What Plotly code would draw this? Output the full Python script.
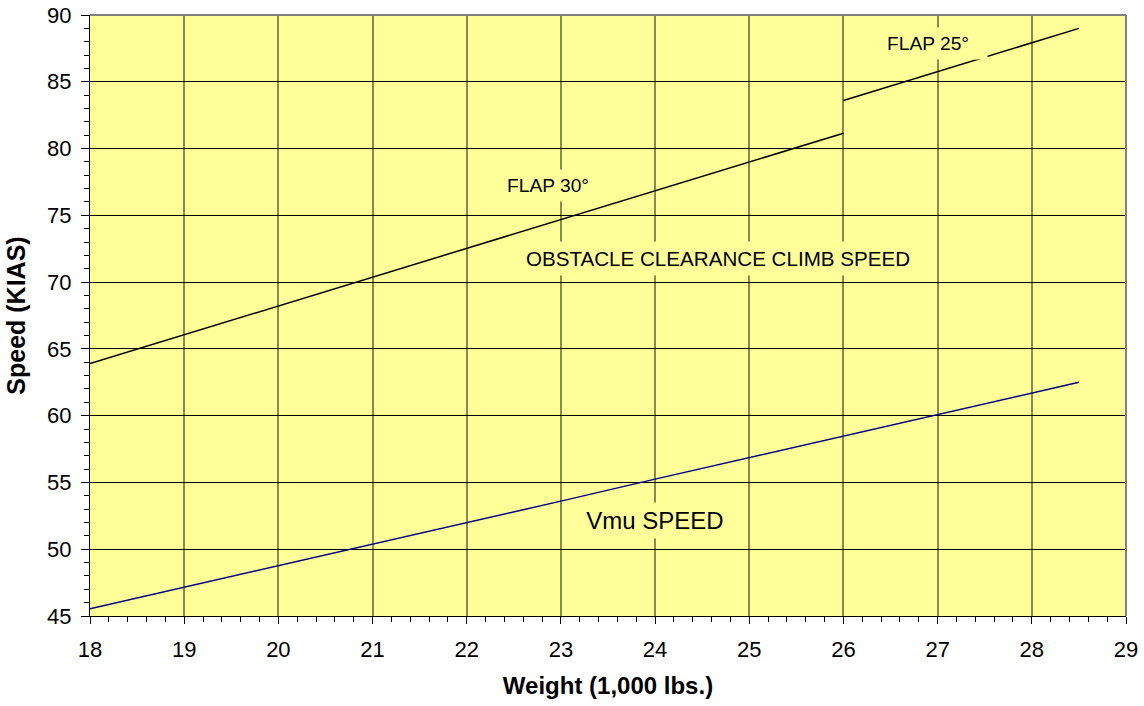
import plotly.graph_objects as go

# ---- data ----
weight_flap30 = [18, 19, 20, 21, 22, 23, 24, 25, 26]
speed_flap30 = [63.9, 66.05, 68.2, 70.35, 72.5, 74.7, 76.85, 79.0, 81.15]

weight_flap25 = [26, 27, 28, 28.5]
speed_flap25 = [83.6, 85.75, 87.9, 89.0]

weight_vmu = [18, 19, 20, 21, 22, 23, 24, 25, 26, 27, 28, 28.5]
speed_vmu = [45.55, 47.15, 48.8, 50.4, 52.0, 53.6, 55.25, 56.85, 58.45, 60.05, 61.7, 62.5]

x_ticks = list(range(18, 30))
y_ticks = list(range(45, 95, 5))

FONT = "Arial, Liberation Sans, sans-serif"
BG = "#FFFF99"

fig = go.Figure()
fig.add_trace(go.Scatter(x=weight_flap30, y=speed_flap30, mode="lines",
                         line=dict(color="black", width=1.5), hoverinfo="skip"))
fig.add_trace(go.Scatter(x=weight_flap25, y=speed_flap25, mode="lines",
                         line=dict(color="black", width=1.5), hoverinfo="skip"))
fig.add_trace(go.Scatter(x=weight_vmu, y=speed_vmu, mode="lines",
                         line=dict(color="#000080", width=1.5), hoverinfo="skip"))

def label(text, x, y, size, pad, width=None):
    d = dict(text=text, x=x, y=y, xref="x", yref="y", showarrow=False,
             font=dict(family=FONT, size=size, color="black"),
             bgcolor=BG, borderpad=pad, xanchor="center", yanchor="middle")
    if width:
        d["width"] = width
    fig.add_annotation(**d)

label("FLAP 30°", 22.86, 77.27, 19.2, 5, 100)
label("FLAP 25°", 26.9, 87.85, 19.2, 5, 108)
label("OBSTACLE CLEARANCE CLIMB SPEED", 24.67, 71.8, 20.6, 5, 410)
label("Vmu SPEED", 24.0, 52.13, 24, 4, 160)

fig.update_layout(
    width=1144, height=706,
    margin=dict(l=90, r=18, t=15, b=90, autoexpand=False),
    paper_bgcolor="white", plot_bgcolor=BG,
    showlegend=False,
    font=dict(family=FONT, size=22, color="black"),
)
fig.update_xaxes(
    range=[18, 29], tickvals=x_ticks, ticktext=[str(v) for v in x_ticks],
    automargin=False,
    showgrid=True, gridcolor="rgba(40,40,20,0.55)", gridwidth=1.5,
    showline=True, linecolor="black", linewidth=1,
    ticks="outside", ticklen=7, tickcolor="black", tickwidth=1,
    minor=dict(ticks="outside", ticklen=5, dtick=0.2, tickcolor="black", showgrid=False),
    tickfont=dict(family=FONT, size=22), ticklabelstandoff=7,
    title=dict(text="<b>Weight (1,000 lbs.)</b>", font=dict(family=FONT, size=24), standoff=15),
    zeroline=False,
)
fig.update_yaxes(
    range=[45, 90], tickvals=y_ticks, ticktext=[str(v) for v in y_ticks],
    automargin=False,
    showgrid=True, gridcolor="black", gridwidth=1,
    showline=True, linecolor="black", linewidth=1,
    ticks="outside", ticklen=8, tickcolor="black", tickwidth=1,
    minor=dict(ticks="outside", ticklen=5, dtick=1, tickcolor="black", showgrid=False),
    tickfont=dict(family=FONT, size=22), ticklabelstandoff=5,
    title=dict(text="<b>Speed (KIAS)</b>", font=dict(family=FONT, size=25), standoff=14),
    zeroline=False,
)
# gray top and right frame
fig.add_shape(type="line", xref="paper", yref="paper", x0=0, x1=1, y0=1, y1=1,
              line=dict(color="#808080", width=2), layer="above")
fig.add_shape(type="line", xref="paper", yref="paper", x0=1, x1=1, y0=0, y1=1,
              line=dict(color="#808080", width=2), layer="above")

fig.write_html("out.html", config={"displayModeBar": False},
               post_script="document.body.style.margin='0px';document.body.style.overflow='hidden';")
